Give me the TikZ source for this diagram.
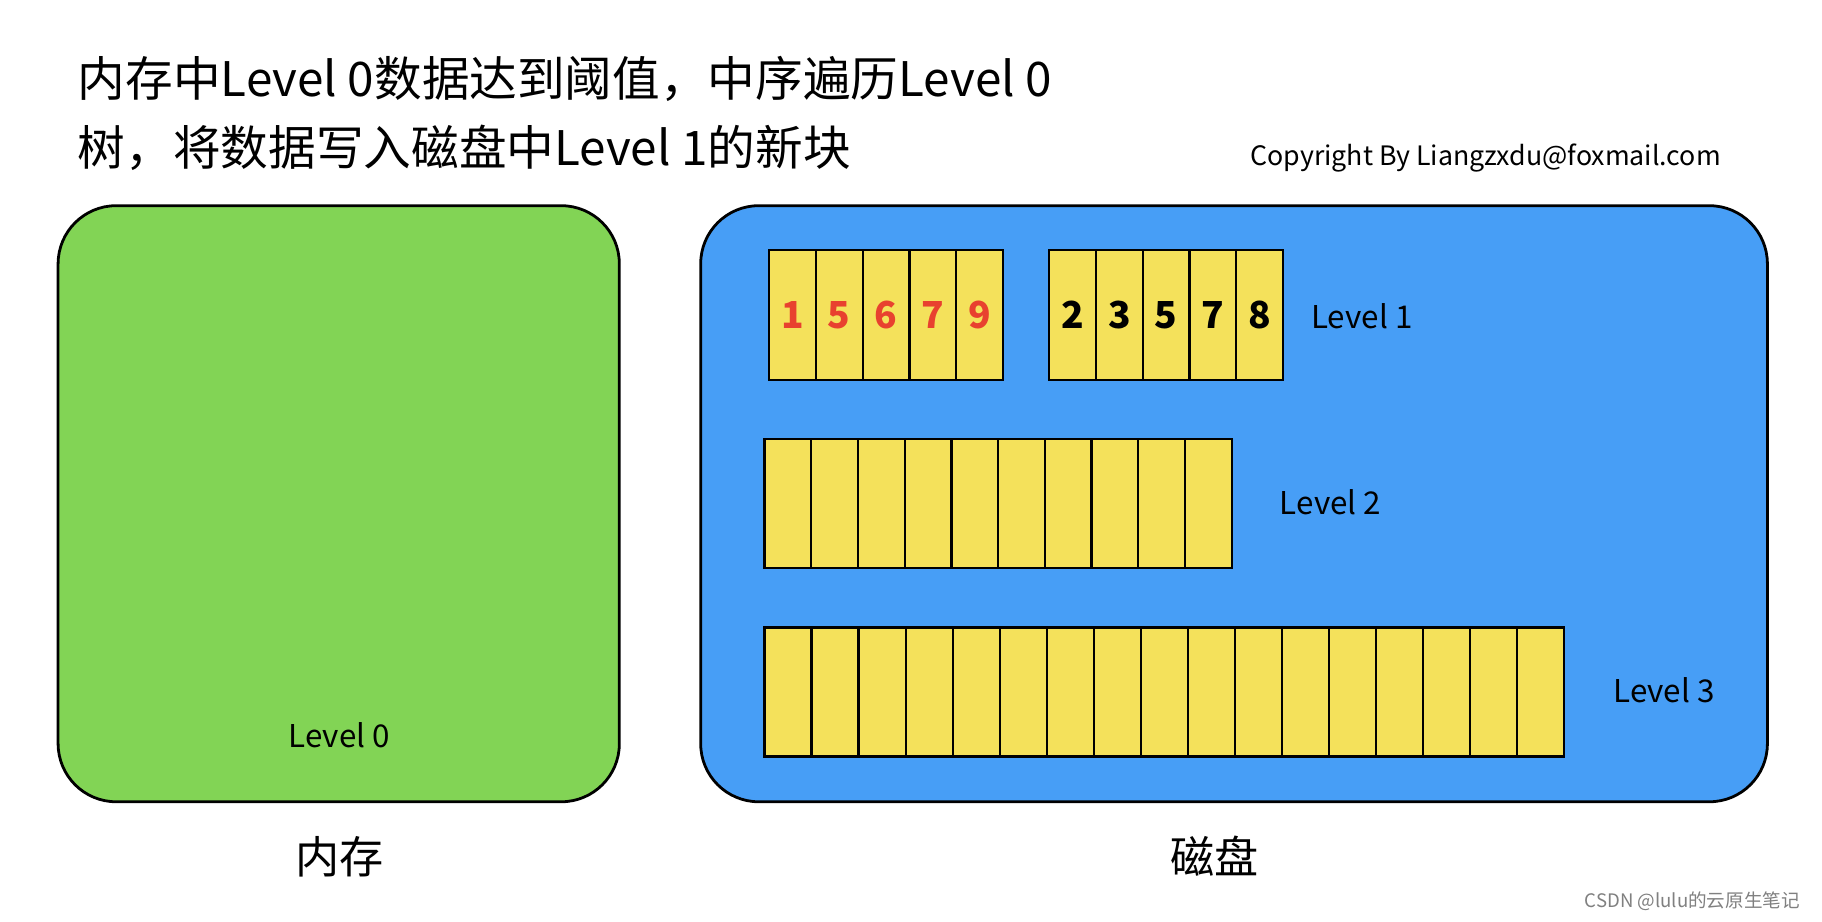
\documentclass[tikz,border=0pt]{standalone}
\usepackage{fontspec}
\setmainfont{Noto Sans CJK SC}
\begin{document}
\begin{tikzpicture}[x=0.5pt,y=-0.5pt,
  box/.style={draw=black,line width=1.2pt,rounded corners=25pt},
  cell/.style={draw=black,line width=1pt,fill=cellY},
  lbl/.style={font=\fontsize{13.5}{15}\selectfont},
  title/.style={font=\fontsize{20.5}{24}\selectfont,anchor=west},
  num/.style={font=\fontsize{16}{17}\selectfont\bfseries}]
\definecolor{cellY}{HTML}{F4E15B}
\definecolor{gr}{HTML}{82D455}
\definecolor{bl}{HTML}{479EF6}
\definecolor{rd}{HTML}{E8412F}
\useasboundingbox[fill=white] (0,0) rectangle (1568,793);
\node[title] (t1) at (60,68) {内存中Level 0数据达到阈值，中序遍历Level 0};
\node[title] (t2) at (60,127) {树，将数据写入磁盘中Level 1的新块};
\node[anchor=east,font=\fontsize{11.5}{13}\selectfont] (cp) at (1488,136) {Copyright By Liangzxdu@foxmail.com};
\draw[box,fill=gr] (50,177) rectangle (533,690);
\node[lbl] (l0) at (292,633) {Level 0};
\draw[box,fill=bl] (603,177) rectangle (1521,690);
% Level 1
\foreach \n [count=\i from 0] in {1,5,6,7,9}{
  \draw[cell] ({662+\i*40.2},215) rectangle ({662+(\i+1)*40.2},327);
  \node[num,text=rd] (a\i) at ({662+(\i+0.5)*40.2},271) {\n};}
\foreach \n [count=\i from 0] in {2,3,5,7,8}{
  \draw[cell] ({903+\i*40.2},215) rectangle ({903+(\i+1)*40.2},327);
  \node[num] (b\i) at ({903+(\i+0.5)*40.2},271) {\n};}
\node[lbl] (l1) at (1172,272) {Level 1};
\foreach \i in {0,...,9}{
  \draw[cell] ({658+\i*40.2},378) rectangle ({658+(\i+1)*40.2},489);}
\node[lbl] (l2) at (1145,432) {Level 2};
\foreach \i in {0,...,16}{
  \draw[cell] ({658+\i*40.47},540) rectangle ({658+(\i+1)*40.47},651);}
\node[lbl] (l3) at (1432,594) {Level 3};
\node[font=\fontsize{19}{20}\selectfont] (m) at (292,737) {内存};
\node[font=\fontsize{19}{20}\selectfont] (d) at (1045,737) {磁盘};
\node[anchor=east,text=gray,font=\fontsize{8}{10}\selectfont] (w) at (1556,776) {CSDN @lulu的云原生笔记};
\end{tikzpicture}
\end{document}
